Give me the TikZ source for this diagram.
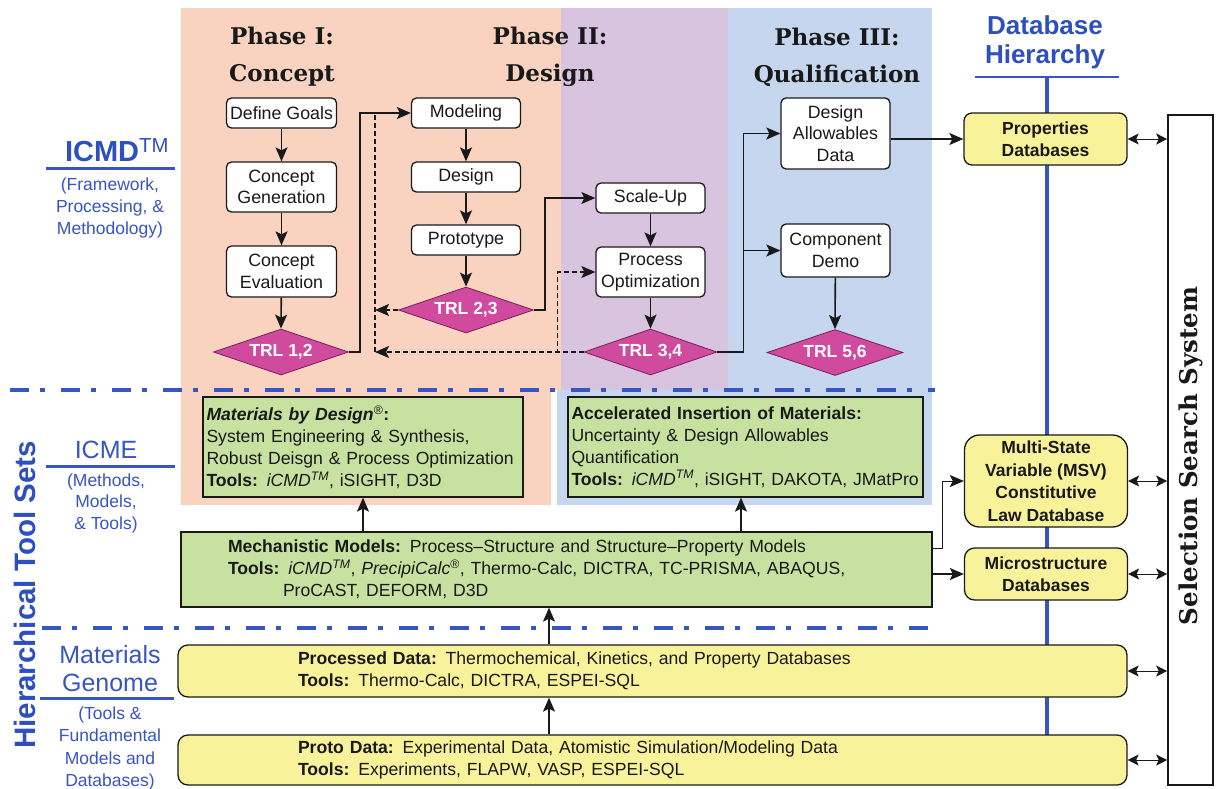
\documentclass[tikz,border=0pt]{standalone}
\usepackage{fontspec}
\setmainfont{Liberation Sans}
\newfontfamily\slab{DejaVu Serif}
\usetikzlibrary{arrows.meta,shapes.geometric,calc}
\newcommand{\fsz}[2]{\fontsize{#1}{#2}\selectfont}
\definecolor{peach}{RGB}{249,211,192}
\definecolor{lilac}{RGB}{217,196,224}
\definecolor{paleblue}{RGB}{198,214,238}
\definecolor{gfill}{RGB}{199,225,160}
\definecolor{yfill}{RGB}{248,242,155}
\definecolor{trlfill}{RGB}{208,75,158}
\definecolor{trlline}{RGB}{120,30,90}
\definecolor{hblue}{RGB}{45,80,190}
\definecolor{lblue}{RGB}{55,85,195}
\definecolor{ink}{RGB}{25,25,25}
\tikzset{
  flow/.style={draw=ink, line width=1.3pt, fill=white, rounded corners=5pt, align=center,
    font=\fsz{17.8}{21.5}, text=ink, inner sep=0pt, minimum width=110pt},
  trl/.style={diamond, draw=trlline, fill=trlfill, line width=0.8pt, shape aspect=3,
    minimum width=135pt, minimum height=46pt, inner sep=0pt, text=white,
    font=\bfseries\fsz{17.5}{20}},
  arr/.style={-{Stealth[length=14pt,width=12pt,inset=3pt]}, line width=1.6pt, draw=ink},
  thinarr/.style={arr, line width=1pt},
  darr/.style={arr, dash pattern=on 5pt off 3pt},
  dline/.style={line width=1.5pt, draw=ink, dash pattern=on 5pt off 3pt},
  dbl/.style={{Stealth[length=11pt,width=11pt,inset=2.5pt]}-{Stealth[length=11pt,width=11pt,inset=2.5pt]}, line width=1pt, draw=ink},
  gbox/.style={draw=ink, fill=gfill, line width=1.3pt, align=left, font=\fsz{17.6}{22}, text=ink},
  ybox/.style={draw=ink, fill=yfill, line width=1.3pt, rounded corners=10pt, text=ink},
  dbbox/.style={ybox, align=center, font=\bfseries\fsz{17.5}{22.5}, inner sep=0pt, minimum width=163pt},
  dashdot/.style={draw=lblue, line width=4pt, dash pattern=on 19pt off 11pt on 5pt off 16pt},
  uline/.style={draw=lblue, line width=3pt},
  bluetxt/.style={text=lblue, align=center, font=\fsz{17.5}{22}},
  phase/.style={font=\slab\bfseries\fsz{23}{37}, align=center, text=ink},
}
\begin{document}
\begin{tikzpicture}[x=1pt,y=-1pt]
\useasboundingbox (0,0) rectangle (1216,788);
\fill[white] (0,0) rectangle (1216,788);

% phase panels
\fill[peach] (181,8) rectangle (561,390);
\fill[lilac] (561,8) rectangle (728,390);
\fill[paleblue] (728,8) rectangle (932,390);
\fill[peach] (181,390) rectangle (551,505);
\fill[paleblue] (557,390) rectangle (932,505);

% dash-dot separators
\draw[dashdot] (10,390) -- (935,390);
\draw[dashdot] (42,628) -- (935,628);

% database hierarchy spine
\draw[draw=lblue, line width=2.5pt] (975,77) -- (1119,77);
\draw[draw=lblue, line width=3.5pt] (1047,77) -- (1047,735);

% left labels
\node[font=\bfseries\fsz{29}{32}, text=hblue] (icmd) at (117,150) {ICMD\textsuperscript{\mdseries TM}};
\draw[uline] (46,168) -- (175,168);
\node[bluetxt] (icmdsub) at (110,208) {(Framework,\\Processing, \&\\Methodology)};

\node[text=lblue, font=\fsz{25}{28}] (icme) at (106,450) {ICME};
\draw[uline] (46,466) -- (175,466);
\node[bluetxt, font=\fsz{17.5}{21.5}] (icmesub) at (106,503) {(Methods,\\Models,\\\& Tools)};

\node[text=lblue, align=center, font=\fsz{25}{28}] (mg) at (110,669) {Materials\\Genome};
\draw[uline] (40,698) -- (174,698);
\node[bluetxt, font=\fsz{17.5}{22.3}] (mgsub) at (110,748.5) {(Tools \&\\Fundamental\\Models and\\Databases)};

\node[rotate=90, text=hblue, font=\bfseries\fsz{29.5}{31}] (hts) at (25,595) {Hierarchical Tool Sets};

% headings
\node[phase] (ph1) at (282,57) {Phase I:\\Concept};
\node[phase] (ph2) at (550,57) {Phase II:\\Design};
\node[phase] (ph3) at (837,57) {Phase III:\\Qualification};
\node[text=hblue, align=center, font=\bfseries\fsz{26}{29}] (dbh) at (1045,42) {Database\\Hierarchy};

% Phase I
\node[flow, minimum height=30pt] (goals) at (281.5,113) {Define Goals};
\node[flow, minimum height=50pt] (cgen) at (281.5,187) {Concept\\Generation};
\node[flow, minimum height=51pt] (ceval) at (281.5,271.5) {Concept\\Evaluation};
\node[trl] (trl12) at (281,352) {TRL 1,2};

% Phase II
\node[flow, minimum height=30pt, minimum width=109pt] (model) at (466,113) {Modeling};
\node[flow, minimum height=30pt, minimum width=109pt] (design) at (466,177) {Design};
\node[flow, minimum height=30pt, minimum width=109pt] (proto) at (466,240) {Prototype};
\node[trl] (trl23) at (466,310) {TRL 2,3};
\node[flow, minimum height=30pt, minimum width=109pt] (scale) at (650.5,198) {Scale-Up};
\node[flow, minimum height=50pt, minimum width=109pt] (popt) at (650.5,272) {Process\\Optimization};
\node[trl, minimum width=133pt] (trl34) at (650.5,352) {TRL 3,4};

% Phase III
\node[flow, minimum height=71pt, minimum width=109pt] (dad) at (835.5,133.5) {Design\\Allowables\\Data};
\node[flow, minimum height=53pt, minimum width=109pt] (cdemo) at (835.5,250.5) {Component\\Demo};
\node[trl, minimum width=136pt] (trl56) at (835,352.5) {TRL 5,6};

% databases
\node[dbbox, minimum height=52pt, rounded corners=8pt] (propdb) at (1045.5,139) {Properties\\Databases};
\node[dbbox, minimum height=92pt, rounded corners=15pt] (msv) at (1046,481) {Multi-State\\Variable (MSV)\\Constitutive\\Law Database};
\node[dbbox, minimum height=52pt, rounded corners=10pt] (micro) at (1046,574) {Microstructure\\Databases};
\node[draw=ink, line width=1.6pt, fill=white, minimum width=45pt, minimum height=670pt, inner sep=0pt] (sss) at (1190.5,450) {};
\node[rotate=90, font=\slab\bfseries\fsz{24.5}{27}, text=ink] (ssst) at (1191,456) {Selection Search System};

% ICME green boxes
\node[gbox, text width=313pt, inner xsep=3.5pt, minimum height=100pt] (mbd) at (363,447)
  {\textbf{\textit{Materials by Design}}\textsuperscript{\textregistered}\textbf{:}\\
   System Engineering \& Synthesis,\\
   Robust Deisgn \& Process Optimization\\
   \textbf{Tools:} \textit{iCMD\textsuperscript{TM}}, iSIGHT, D3D};
\node[gbox, text width=348pt, inner xsep=3.5pt, minimum height=100pt] (aim) at (745.5,447)
  {\textbf{Accelerated Insertion of Materials:}\\
   Uncertainty \& Design Allowables\\
   Quantification\\
   \textbf{Tools:} \textit{iCMD\textsuperscript{TM}}, iSIGHT, DAKOTA, JMatPro};
\node[gbox, text width=657pt, inner xsep=47pt, minimum height=75pt] (mech) at (556.5,569.5)
  {\textbf{Mechanistic Models:} Process--Structure and Structure--Property Models\\
   \textbf{Tools:} \textit{iCMD\textsuperscript{TM}}, \textit{PrecipiCalc}\textsuperscript{\textregistered}, Thermo-Calc, DICTRA, TC-PRISMA, ABAQUS,\\
   \hspace*{55pt}ProCAST, DEFORM, D3D};

% Materials genome yellow boxes
\node[ybox, align=left, font=\fsz{17.6}{22}, text width=709pt, inner xsep=120pt, minimum height=52pt] (proc) at (652.5,671)
  {\textbf{Processed Data:} Thermochemical, Kinetics, and Property Databases\\
   \textbf{Tools:} Thermo-Calc, DICTRA, ESPEI-SQL};
\node[ybox, align=left, font=\fsz{17.6}{22}, text width=709pt, inner xsep=120pt, minimum height=50pt] (protod) at (652.5,760)
  {\textbf{Proto Data:} Experimental Data, Atomistic Simulation/Modeling Data\\
   \textbf{Tools:} Experiments, FLAPW, VASP, ESPEI-SQL};

% flow connectors
\draw[arr] (goals) -- (cgen);
\draw[arr] (cgen) -- (ceval);
\draw[arr] (ceval) -- (trl12.north);
\draw[arr] (trl12.east) -- ++(11,0) |- (model.west);
\draw[arr] (model) -- (design);
\draw[arr] (design) -- (proto);
\draw[arr] (proto) -- (trl23.north);
\draw[arr] (trl23.east) -- ++(11,0) |- (scale.west);
\draw[arr] (scale) -- (popt);
\draw[arr] (popt) -- (trl34.north);
\draw[arr] (trl34.east) -- ++(26,0) |- (dad.west);
\draw[arr] (trl34.east) -- ++(26,0) |- (cdemo.west);
\draw[arr] (cdemo) -- (trl56.north);
\draw[arr] (dad.east |- propdb.west) -- (propdb.west);

% feedback (dashed)
\coordinate (fb) at (375,352);
\draw[dline] (fb) -- (fb |- model.west);
\draw[darr] (trl34.west) -- (fb);
\draw[darr] (trl23.west) -- (trl23.west -| fb);
\draw[darr] (trl34.west) -- ++(-26,0) |- (popt.west);

% tool-set connectors
\coordinate (colx) at (549,0);
\draw[arr] (mech.north -| mbd) -- (mbd.south);
\draw[arr] (mech.north -| 741,0) -- (aim.south -| 741,0);
\draw[thinarr] ([yshift=21pt]mech.east) -- ++(10,0) |- (msv.west);
\draw[arr] (mech.east |- micro.west) -- (micro.west);
\draw[arr] (proc.north -| colx) -- (mech.south -| colx);
\draw[arr] (protod.north -| colx) -- (proc.south -| colx);

% to selection search system
\draw[dbl] (propdb.east) -- (propdb.east -| sss.west);
\draw[dbl] (msv.east) -- (msv.east -| sss.west);
\draw[dbl] (micro.east) -- (micro.east -| sss.west);
\draw[dbl] (proc.east) -- (proc.east -| sss.west);
\draw[dbl] (protod.east) -- (protod.east -| sss.west);
\end{tikzpicture}
\end{document}
